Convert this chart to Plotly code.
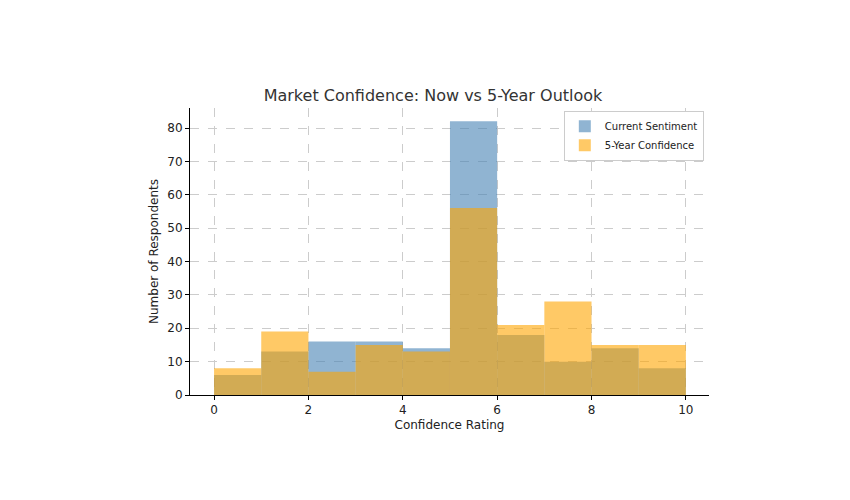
import plotly.graph_objects as go

bin_centers = [0.5, 1.5, 2.5, 3.5, 4.5, 5.5, 6.5, 7.5, 8.5, 9.5]
current = [6, 13, 16, 16, 14, 82, 18, 10, 14, 8]
future = [8, 19, 7, 15, 13, 56, 21, 28, 15, 15]

fig = go.Figure()
fig.add_trace(go.Bar(x=bin_centers, y=current, width=1, name="Current Sentiment",
                     marker=dict(color="rgba(70,130,180,0.6)", line=dict(width=0))))
fig.add_trace(go.Bar(x=bin_centers, y=future, width=1, name="5-Year Confidence",
                     marker=dict(color="rgba(255,165,0,0.6)", line=dict(width=0))))

axis_common = dict(showgrid=True, gridcolor="#cccccc", griddash="dash", gridwidth=1,
                   showline=True, linecolor="black", linewidth=1, ticks="outside",
                   ticklen=4, tickcolor="black", zeroline=False,
                   tickfont=dict(size=12, color="#222"))
fig.update_layout(
    barmode="overlay",
    width=850, height=500,
    paper_bgcolor="white", plot_bgcolor="white",
    font=dict(family="DejaVu Sans", color="#222"),
    title=dict(text="Market Confidence: Now vs 5-Year Outlook", x=0.5, xanchor="center",
               y=0.825, yanchor="middle", font=dict(size=16, color="#333")),
    margin=dict(l=182, r=149, t=100, b=113),
    xaxis=dict(range=[-0.51, 10.49], tickvals=[0, 2, 4, 6, 8, 10],
               title=dict(text="Confidence Rating", font=dict(size=12), standoff=4), **axis_common),
    yaxis=dict(range=[0, 86], tickvals=[0, 10, 20, 30, 40, 50, 60, 70, 80],
               title=dict(text="Number of Respondents", font=dict(size=12), standoff=6), **axis_common),
    legend=dict(x=0.99, y=0.99, xanchor="right", yanchor="top", bgcolor="white",
                bordercolor="#ccc", borderwidth=1, font=dict(size=10)),
)
fig.write_html("out.html")
